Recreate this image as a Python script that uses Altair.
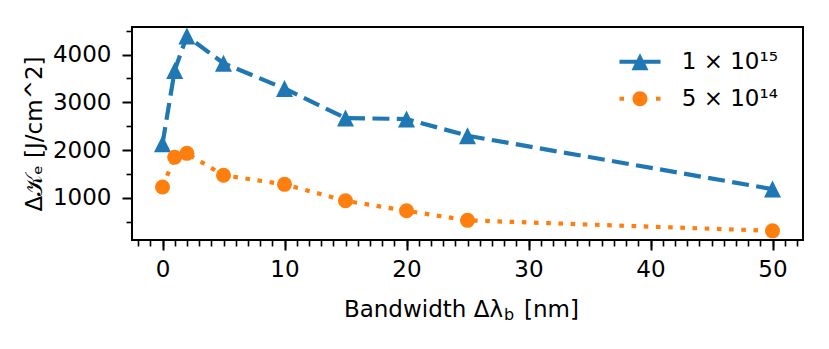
import altair as alt
import pandas as pd

# ---- data ----
bandwidth = [0, 1, 2, 5, 10, 15, 20, 25, 50]
fluence_1e15 = [2130, 3670, 4390, 3820, 3290, 2670, 2650, 2300, 1180]
fluence_5e14 = [1225, 1850, 1930, 1470, 1280, 935, 725, 525, 305]
series_labels = ["1 × 10¹⁵", "5 × 10¹⁴"]
x_ticks = [0, 10, 20, 30, 40, 50]
x_minor = list(range(-2, 53))
y_ticks = [1000, 2000, 3000, 4000]
y_minor = [500, 1500, 2500, 3500, 4500]
colors = ["#1f77b4", "#ff7f0e"]

rows = []
for s, vals in zip(series_labels, [fluence_1e15, fluence_5e14]):
    for b, v in zip(bandwidth, vals):
        rows.append({"bw": b, "val": v, "series": s})
df = pd.DataFrame(rows)

FONT = "DejaVu Sans"
FS = 23

xscale = alt.Scale(domain=[-2.5, 52.5], nice=False, zero=False)
yscale = alt.Scale(domain=[113, 4580], nice=False, zero=False)

tri = "M0,-1 L1,1 L-1,1 Z"
shapes = [tri, "circle"]
sizes = [289, 225]
dashes = [[17, 7.4], [4.6, 7.6]]

major_x = alt.Axis(values=x_ticks, format="d", orient="bottom", tickSize=10, tickWidth=2,
                   tickColor="black", labelFontSize=FS, labelFont=FONT, labelColor="black",
                   labelPadding=8, domain=False, grid=False, title=None)
major_y = alt.Axis(values=y_ticks, format="d", orient="left", tickSize=10, tickWidth=2,
                   tickColor="black", labelFontSize=FS, labelFont=FONT, labelColor="black",
                   labelPadding=11, domain=False, grid=False,
                   title="Δ𝒦ₑ [J/cm^2]", titleFont=FONT, titleFontSize=FS,
                   titleFontWeight="normal", titleColor="black", titlePadding=6)
minor_x = alt.Axis(values=x_minor, orient="bottom", tickSize=6, tickWidth=1.6,
                   tickColor="black", labels=False, domain=False, grid=False, title=None)
minor_y = alt.Axis(values=y_minor, orient="left", tickSize=6, tickWidth=1.6,
                   tickColor="black", labels=False, domain=False, grid=False, title=None)

base = alt.Chart(df)
layers = []
for i, s in enumerate(series_labels):
    d = base.transform_filter(alt.datum.series == s)
    xa = major_x if i == 0 else None
    ya = major_y if i == 0 else None
    line = d.mark_line(color=colors[i], strokeWidth=4.2, strokeDash=dashes[i],
                       strokeCap="butt").encode(
        x=alt.X("bw:Q", scale=xscale, axis=xa),
        y=alt.Y("val:Q", scale=yscale, axis=ya),
    )
    pts = d.mark_point(color=colors[i], filled=True, opacity=1, shape=shapes[i],
                       size=sizes[i], strokeWidth=0).encode(
        x=alt.X("bw:Q", scale=xscale, axis=None),
        y=alt.Y("val:Q", scale=yscale, axis=None),
    )
    layers += [line, pts]

# legend symbols: line stub + marker (path units: r = 14 px)
leg_paths = [
    "M-1.464,-0.14 L1.464,-0.14 L1.464,0.14 L-1.464,0.14 Z "
    "M0,-0.607 L0.607,0.607 L-0.607,0.607 Z",
    "M-1.464,-0.14 L-1.14,-0.14 L-1.14,0.14 L-1.464,0.14 Z "
    "M1.14,-0.14 L1.464,-0.14 L1.464,0.14 L1.14,0.14 Z "
    "M0.536,0 A0.536,0.536 0 1,1 -0.536,0 A0.536,0.536 0 1,1 0.536,0 Z",
]
leg = alt.Legend(title=None, orient="none", legendX=494, legendY=20.7,
                 labelFont=FONT, labelFontSize=FS, labelColor="black",
                 symbolSize=784, symbolStrokeWidth=0, symbolOpacity=1,
                 labelOffset=27.7, rowPadding=11, padding=0, symbolOffset=0)
legend_layer = base.mark_point(filled=True, opacity=0).encode(
    x=alt.X("bw:Q", scale=xscale, axis=minor_x),
    y=alt.Y("val:Q", scale=yscale, axis=minor_y),
    color=alt.Color("series:N", scale=alt.Scale(domain=series_labels, range=colors), legend=leg),
    shape=alt.Shape("series:N", scale=alt.Scale(domain=series_labels, range=leg_paths), legend=leg),
)
layers.append(legend_layer)

# x-axis title with subscript, built from text pieces
title_main = alt.Chart(pd.DataFrame({"t": ["Bandwidth Δλ"]})).mark_text(
    font=FONT, fontSize=FS, align="right", baseline="alphabetic", color="black"
).encode(text="t:N", x=alt.value(371), y=alt.value(290))
title_sub = alt.Chart(pd.DataFrame({"t": ["b"]})).mark_text(
    font=FONT, fontSize=16, align="left", baseline="alphabetic", color="black"
).encode(text="t:N", x=alt.value(372), y=alt.value(293.4))
title_unit = alt.Chart(pd.DataFrame({"t": ["[nm]"]})).mark_text(
    font=FONT, fontSize=FS, align="left", baseline="alphabetic", color="black"
).encode(text="t:N", x=alt.value(392), y=alt.value(290))
layers += [title_main, title_sub, title_unit]

chart = alt.layer(*layers).resolve_axis(x="independent", y="independent").properties(
    width=671, height=213,
    autosize=alt.AutoSizeParams(type="none"),
    padding={"left": 124, "top": 19, "right": 18, "bottom": 100},
).configure(font=FONT).configure_view(stroke="black", strokeWidth=2)

chart.save("out.html", embed_options={"renderer": "svg", "actions": False})
